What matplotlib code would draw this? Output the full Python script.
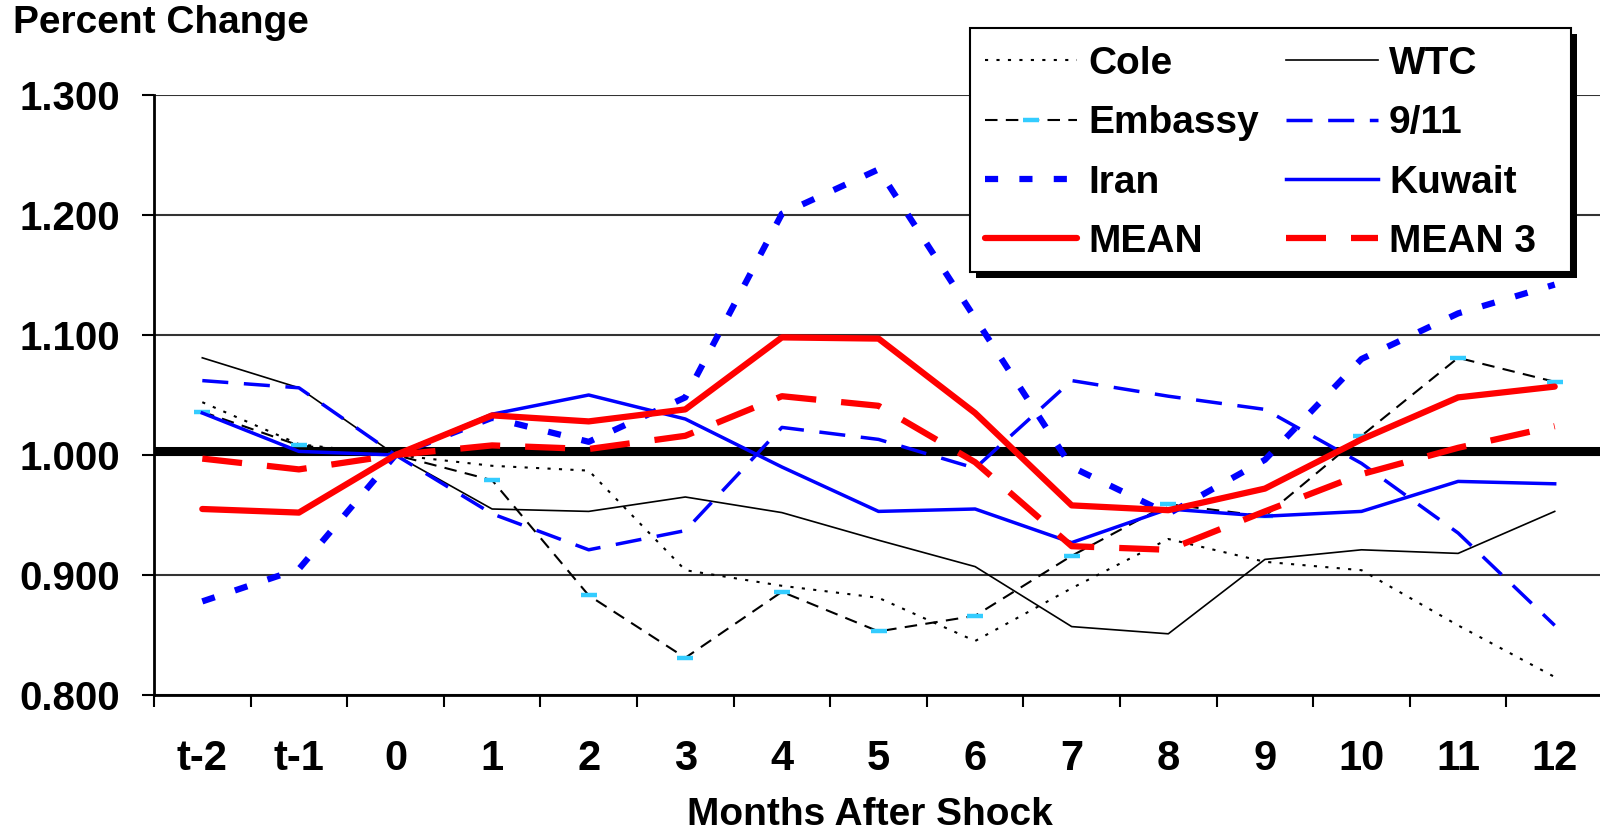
import numpy as np
import matplotlib
matplotlib.use("Agg")
import matplotlib.pyplot as plt
from matplotlib.patches import Rectangle

plt.rcParams['font.family'] = ['Liberation Sans', 'DejaVu Sans']
plt.rcParams['font.weight'] = 'bold'

months = ["t-2", "t-1", "0", "1", "2", "3", "4", "5", "6", "7", "8", "9", "10", "11", "12"]

cole = [1.044, 1.009, 1.000, 0.991, 0.987, 0.904, 0.891, 0.881, 0.845, 0.889, 0.930, 0.911, 0.904, 0.858, 0.815]
wtc = [1.081, 1.056, 1.000, 0.955, 0.953, 0.965, 0.952, 0.929, 0.907, 0.857, 0.851, 0.913, 0.921, 0.918, 0.953]
embassy = [1.036, 1.008, 1.000, 0.979, 0.883, 0.831, 0.886, 0.853, 0.866, 0.916, 0.959, 0.949, 1.016, 1.081, 1.061]
nine_eleven = [1.062, 1.056, 1.000, 0.951, 0.921, 0.937, 1.023, 1.013, 0.989, 1.062, 1.049, 1.038, 0.993, 0.935, 0.858]
iran = [0.878, 0.905, 1.000, 1.031, 1.011, 1.048, 1.201, 1.238, 1.114, 0.990, 0.951, 0.996, 1.080, 1.118, 1.142]
kuwait = [1.035, 1.003, 1.000, 1.034, 1.050, 1.030, 0.990, 0.953, 0.955, 0.927, 0.955, 0.949, 0.953, 0.978, 0.976]
mean = [0.955, 0.952, 1.000, 1.033, 1.028, 1.038, 1.098, 1.097, 1.035, 0.958, 0.954, 0.972, 1.013, 1.048, 1.057]
mean3 = [0.997, 0.988, 1.000, 1.008, 1.005, 1.016, 1.049, 1.041, 0.994, 0.924, 0.921, 0.953, 0.984, 1.006, 1.024]

baseline_level = 1.003
y_ticks = [0.8, 0.9, 1.0, 1.1, 1.2, 1.3]

W, H = 1600, 832
fig = plt.figure(figsize=(W / 100, H / 100), dpi=100)
ax = fig.add_axes([154 / W, 1 - 695 / H, 1449 / W, 600 / H])

x = np.arange(len(months))
BLUE = "#0000FF"
RED = "#FF0000"
CYAN = "#33CCFF"

ax.axhline(baseline_level, color="black", lw=6.5, zorder=2, solid_capstyle="butt")

l_cole, = ax.plot(x, cole, color="black", lw=1.5, linestyle=(0, (1.5, 4)), zorder=3)
l_wtc, = ax.plot(x, wtc, color="black", lw=1.2, zorder=3)
l_emb, = ax.plot(x, embassy, color="black", lw=1.5, linestyle=(0, (6, 4)), zorder=3,
                 marker="_", markersize=11, markeredgewidth=3.2, markeredgecolor=CYAN)
l_911, = ax.plot(x, nine_eleven, color=BLUE, lw=2.5, linestyle=(0, (7.5, 4.5)), zorder=3)
l_iran, = ax.plot(x, iran, color=BLUE, lw=4.5, linestyle=(0, (2.1, 3.4)),
                  dash_capstyle="butt", zorder=3)
l_kuw, = ax.plot(x, kuwait, color=BLUE, lw=2.5, zorder=3)
l_mean, = ax.plot(x, mean, color=RED, lw=4.5, zorder=4, solid_capstyle="round")
l_mean3, = ax.plot(x, mean3, color=RED, lw=4.5, linestyle=(0, (6.4, 4)), zorder=4)

ax.set_xlim(-0.5, len(months) - 0.5)
ax.set_ylim(0.8, 1.3)

ax.set_yticks(y_ticks)
ax.set_yticklabels([f"{v:.3f}" for v in y_ticks])
ax.yaxis.grid(True, color="#333333", lw=1.5)
ax.set_axisbelow(True)

ax.set_xticks(x)
ax.set_xticklabels(months)
ax.set_xticks(np.arange(-0.5, len(months)), minor=True)
ax.tick_params(axis="x", which="major", length=0, pad=32, labelsize=30)
ax.tick_params(axis="x", which="minor", length=8.5, width=1.5, direction="out")
ax.tick_params(axis="y", length=8.5, width=1.5, direction="out", pad=16, labelsize=29)

for side in ("top", "right"):
    ax.spines[side].set_visible(False)
for side in ("left", "bottom"):
    ax.spines[side].set_linewidth(2)
    ax.spines[side].set_color("black")

fig.text(13 / W, 1 - 33 / H, "Percent Change", fontsize=28, fontweight="bold",
         ha="left", va="baseline")
fig.text(870 / W, 1 - 825 / H, "Months After Shock", fontsize=28, fontweight="bold",
         ha="center", va="baseline")

handles = [l_cole, l_emb, l_iran, l_mean, l_wtc, l_911, l_kuw, l_mean3]
labels = ["Cole", "Embassy", "Iran", "MEAN", "WTC", "9/11", "Kuwait", "MEAN 3"]
leg = fig.legend(handles, labels, ncol=2, loc="upper left",
                 bbox_to_anchor=(985 / W, 1 - 46 / H),
                 fontsize=28, frameon=False, borderpad=0,
                 handlelength=2.37, handletextpad=0.28, columnspacing=0.7,
                 labelspacing=0.6, borderaxespad=0)
leg.set_zorder(5)

# legend box with a solid black drop shadow, sized around the entries
fig.canvas.draw()
bb = leg.get_window_extent()
pad_top, pad_bottom = 18, 12
box_left = bb.x0 - 15
box_top = bb.y1 + pad_top
box_w = 601
box_h = bb.height + pad_top + pad_bottom
shadow = Rectangle((box_left + 6, box_top - box_h - 6), box_w, box_h,
                   transform=None, facecolor="black", edgecolor="none", zorder=3.9)
frame = Rectangle((box_left, box_top - box_h), box_w, box_h,
                  transform=None, facecolor="white", edgecolor="black", lw=1.5, zorder=4)
fig.add_artist(shadow)
fig.add_artist(frame)

fig.savefig("out.png", dpi=100)
